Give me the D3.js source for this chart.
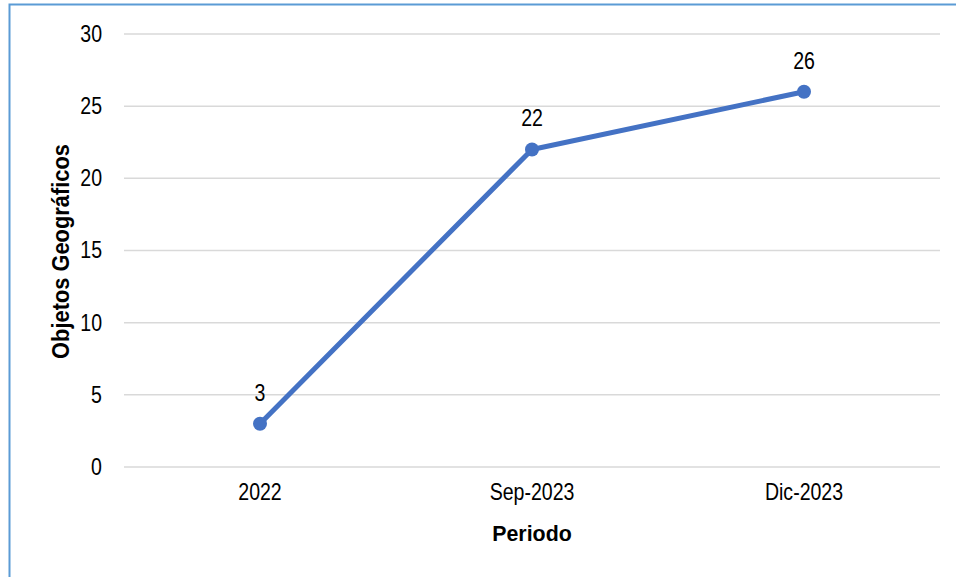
<!DOCTYPE html>
<html>
<head>
<meta charset="utf-8">
<script src="https://cdn.jsdelivr.net/npm/d3@7"></script>
<style>
  body { margin: 0; background: #fff; }
  text { font-family: "Liberation Sans", Arial, sans-serif; }
</style>
</head>
<body>
<div id="chart"></div>
<script>
const periods = ["2022", "Sep-2023", "Dic-2023"];
const values = [3, 22, 26];
const yTicks = [0, 5, 10, 15, 20, 25, 30];

const W = 956, H = 577;
const margin = { top: 34, right: 16, bottom: 110, left: 124 };
const width = W - margin.left - margin.right;
const height = H - margin.top - margin.bottom;
const font = "Liberation Sans, Arial, sans-serif";

// the original uses a condensed face, so squeeze text horizontally
function narrow(sel, sx) {
    sel.each(function () {
        const t = d3.select(this);
        const tx = +t.attr("x") || 0;
        const ty = +t.attr("y") || 0;
        t.attr("x", 0).attr("y", 0)
            .attr("transform", `translate(${tx},${ty}) scale(${sx},1)`);
    });
}

const svg = d3.select("#chart").append("svg")
    .attr("width", W)
    .attr("height", H);

// outer frame
svg.append("rect")
    .attr("x", 9.5).attr("y", 4.5)
    .attr("width", W + 10).attr("height", H + 10)
    .attr("fill", "none")
    .attr("stroke", "#5b9bd5")
    .attr("stroke-width", 2);

const g = svg.append("g").attr("transform", `translate(${margin.left},${margin.top})`);

const x = d3.scaleBand().domain(periods).range([0, width]);
const y = d3.scaleLinear().domain([0, 30]).range([height, 0]);

// gridlines
g.selectAll(".yGrid")
    .data(yTicks)
    .enter()
    .append("line")
    .attr("class", "yGrid")
    .attr("x1", 0)
    .attr("x2", width)
    .attr("y1", d => y(d))
    .attr("y2", d => y(d))
    .attr("stroke", "#d9d9d9")
    .attr("stroke-width", 1.5);

// y tick labels
const yAxis = g.append("g")
    .call(d3.axisLeft(y).tickValues(yTicks).tickSize(0).tickPadding(22));
yAxis.select(".domain").remove();
yAxis.selectAll("text")
    .style("font-size", "23px")
    .style("font-family", font)
    .attr("fill", "#000")
    .call(narrow, 0.85);

// x tick labels
const xAxis = g.append("g")
    .attr("transform", `translate(0,${height})`)
    .call(d3.axisBottom(x).tickSize(0).tickPadding(17));
xAxis.select(".domain").remove();
xAxis.selectAll("text")
    .style("font-size", "23px")
    .style("font-family", font)
    .attr("fill", "#000")
    .call(narrow, 0.85);

// axis titles
svg.append("text")
    .attr("x", margin.left + width / 2)
    .attr("y", 541)
    .attr("text-anchor", "middle")
    .style("font-size", "23px")
    .style("font-weight", "bold")
    .text("Periodo")
    .call(narrow, 0.93);

svg.append("text")
    .attr("transform", `translate(69,${margin.top + height / 2 + 1}) rotate(-90) scale(0.95,1)`)
    .attr("text-anchor", "middle")
    .style("font-size", "23px")
    .style("font-weight", "bold")
    .text("Objetos Geográficos");

// line
const pts = periods.map((p, i) => ({ p: p, v: values[i] }));
const line = d3.line()
    .x(d => x(d.p) + x.bandwidth() / 2)
    .y(d => y(d.v));

g.append("path")
    .datum(pts)
    .attr("fill", "none")
    .attr("stroke", "#4472c4")
    .attr("stroke-width", 5)
    .attr("stroke-linejoin", "round")
    .attr("d", line);

g.selectAll(".dot")
    .data(pts)
    .enter()
    .append("circle")
    .attr("cx", d => x(d.p) + x.bandwidth() / 2)
    .attr("cy", d => y(d.v))
    .attr("r", 7)
    .attr("fill", "#4472c4");

// data labels
g.selectAll(".lbl")
    .data(pts)
    .enter()
    .append("text")
    .attr("x", d => x(d.p) + x.bandwidth() / 2)
    .attr("y", d => y(d.v) - 23)
    .attr("text-anchor", "middle")
    .style("font-size", "23px")
    .text(d => d.v)
    .call(narrow, 0.85);
</script>
</body>
</html>
